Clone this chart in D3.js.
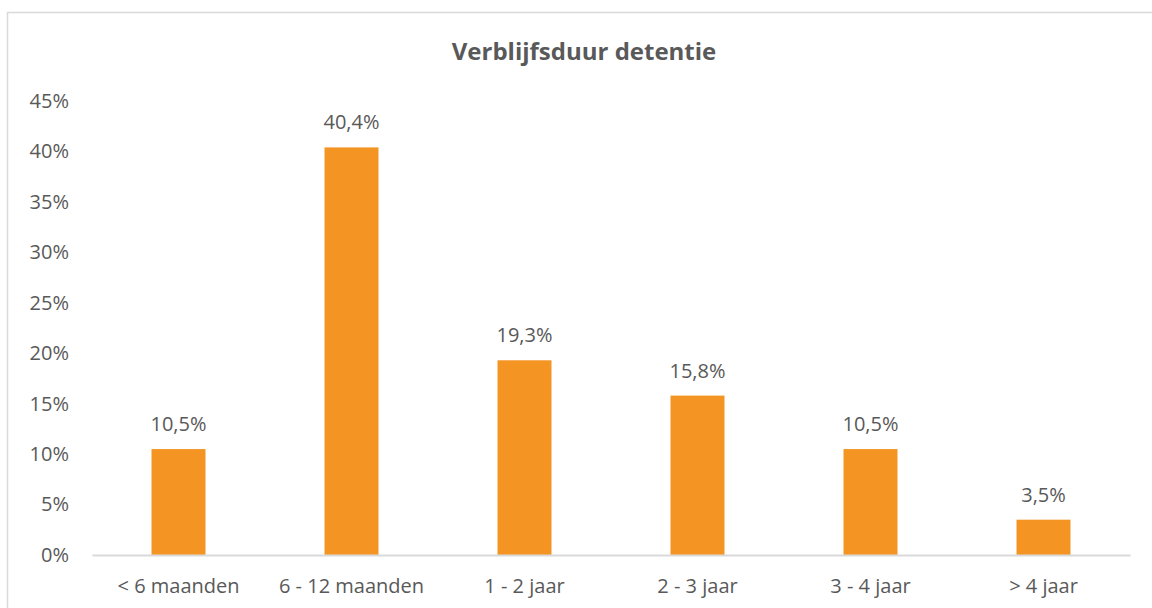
<!DOCTYPE html>
<html><head><meta charset="utf-8">
<script src="https://cdn.jsdelivr.net/npm/d3@7"></script>
<style>
body{margin:0;background:#fff;}
svg{display:block;font-family:"Open Sans",sans-serif;}
</style></head>
<body><svg id="chart" width="1152" height="608"></svg>
<script>
const categories = ["< 6 maanden","6 - 12 maanden","1 - 2 jaar","2 - 3 jaar","3 - 4 jaar","> 4 jaar"];
const values = [10.5, 40.4, 19.3, 15.8, 10.5, 3.5];
const valueLabels = ["10,5%","40,4%","19,3%","15,8%","10,5%","3,5%"];
const yTicks = [0,5,10,15,20,25,30,35,40,45];
const title = "Verblijfsduur detentie";

const svg = d3.select("#chart");
const textColor = "#595959";
svg.append("rect").attr("x",7.5).attr("y",12.5).attr("width",1160).attr("height",620)
  .attr("fill","#fff").attr("stroke","#d9d9d9").attr("stroke-width",1.5);

const x = d3.scaleBand().domain(categories).range([92,1130]).paddingInner(0.688).paddingOuter(0.344);
const y = d3.scaleLinear().domain([0,45]).range([555,101]);

svg.append("text").attr("x",584).attr("y",60).attr("text-anchor","middle")
  .attr("font-size",24).attr("font-weight","bold").attr("fill",textColor).text(title);

const yAxis = svg.append("g").attr("transform","translate(92,0)")
  .call(d3.axisLeft(y).tickValues(yTicks).tickFormat(d=>d+"%").tickSize(0).tickPadding(23));
yAxis.select(".domain").remove();
yAxis.selectAll("text").attr("font-size",20).attr("fill",textColor).attr("font-family","'Open Sans',sans-serif");

svg.selectAll("rect.bar").data(values).enter().append("rect").attr("class","bar")
  .attr("x",(d,i)=>x(categories[i])).attr("width",x.bandwidth())
  .attr("y",d=>y(d)).attr("height",d=>y(0)-y(d)).attr("fill","#F39423");

const xAxis = svg.append("g").attr("transform","translate(0,555)")
  .call(d3.axisBottom(x).tickSize(0).tickPadding(24));
xAxis.select(".domain").attr("stroke","#d9d9d9").attr("stroke-width",2);
xAxis.selectAll("text").attr("font-size",20).attr("fill",textColor).attr("font-family","'Open Sans',sans-serif");

svg.selectAll("text.lbl").data(values).enter().append("text").attr("class","lbl")
  .attr("x",(d,i)=>x(categories[i])+x.bandwidth()/2).attr("y",d=>y(d)-18)
  .attr("text-anchor","middle").attr("font-size",20).attr("fill",textColor)
  .text((d,i)=>valueLabels[i]);
</script></body></html>
